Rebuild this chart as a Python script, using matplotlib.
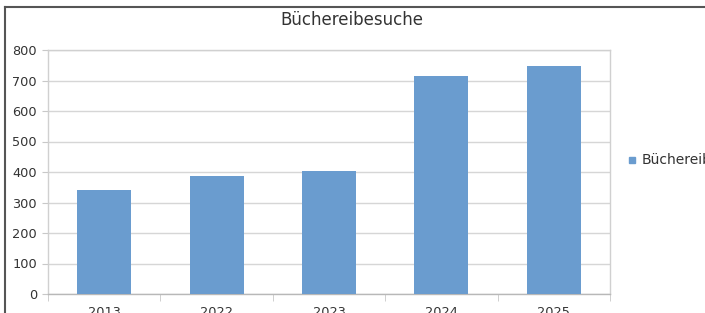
import matplotlib
matplotlib.use("Agg")
import matplotlib.pyplot as plt
from matplotlib.lines import Line2D
from matplotlib.patches import Rectangle

categories = ["2013", "2022", "2023", "2024", "2025"]
visits = [342, 388, 402, 715, 748]
yticks = [0, 100, 200, 300, 400, 500, 600, 700, 800]
title = "Büchereibesuche"
series_name = "Büchereibesuche"

plt.rcParams['font.family'] = ['DejaVu Sans']

W, H = 705, 313
fig = plt.figure(figsize=(W / 100, H / 100), dpi=100)
fig.patch.set_facecolor("white")

ax = fig.add_axes([48 / W, 1 - 294 / H, (610 - 48) / W, (294 - 50) / H])
bar_color = "#6a9ccf"
x = range(len(categories))
ax.bar(x, visits, width=0.48, color=bar_color, zorder=3)

ax.set_xlim(-0.5, len(categories) - 0.5)
ax.set_ylim(0, 800)
ax.set_yticks(yticks)
ax.set_yticklabels([str(v) for v in yticks])
ax.set_xticks(list(x))
ax.set_xticklabels(categories)
ax.set_xticks([i + 0.5 for i in range(-1, len(categories))], minor=True)

ax.yaxis.grid(True, color="#d6d6d6", linewidth=1.0, zorder=0)
for s in ax.spines.values():
    s.set_color("#d0d0d0")
    s.set_linewidth(1.0)
ax.spines["bottom"].set_color("#b8b8b8")

ax.tick_params(axis="y", which="major", length=4, color="#c8c8c8",
               labelsize=9.3, labelcolor="#333333", pad=4)
ax.tick_params(axis="x", which="major", length=0, labelsize=9.3,
               labelcolor="#333333", pad=8.5)
ax.tick_params(axis="x", which="minor", length=5, color="#c8c8c8",
               direction="out")

fig.text(352 / W, 1 - 20 / H, title, ha="center", va="center",
         fontsize=12, color="#333333")

# legend (cut off at right edge)
fig.patches.append(Rectangle((629 / W, 1 - 163 / H), 6 / W, 6 / H,
                             transform=fig.transFigure, color=bar_color))
fig.text(642 / W, 1 - 160 / H, series_name, ha="left", va="center",
         fontsize=10, color="#333333")

# outer frame (top and left edges visible)
fig.lines.append(Line2D([5 / W, 5 / W], [0, 1 - 7 / H],
                        transform=fig.transFigure, color="#555555", linewidth=1.5))
fig.lines.append(Line2D([5 / W, 1], [1 - 7 / H, 1 - 7 / H],
                        transform=fig.transFigure, color="#555555", linewidth=1.5))

fig.savefig("out.png", dpi=100, facecolor="white")
